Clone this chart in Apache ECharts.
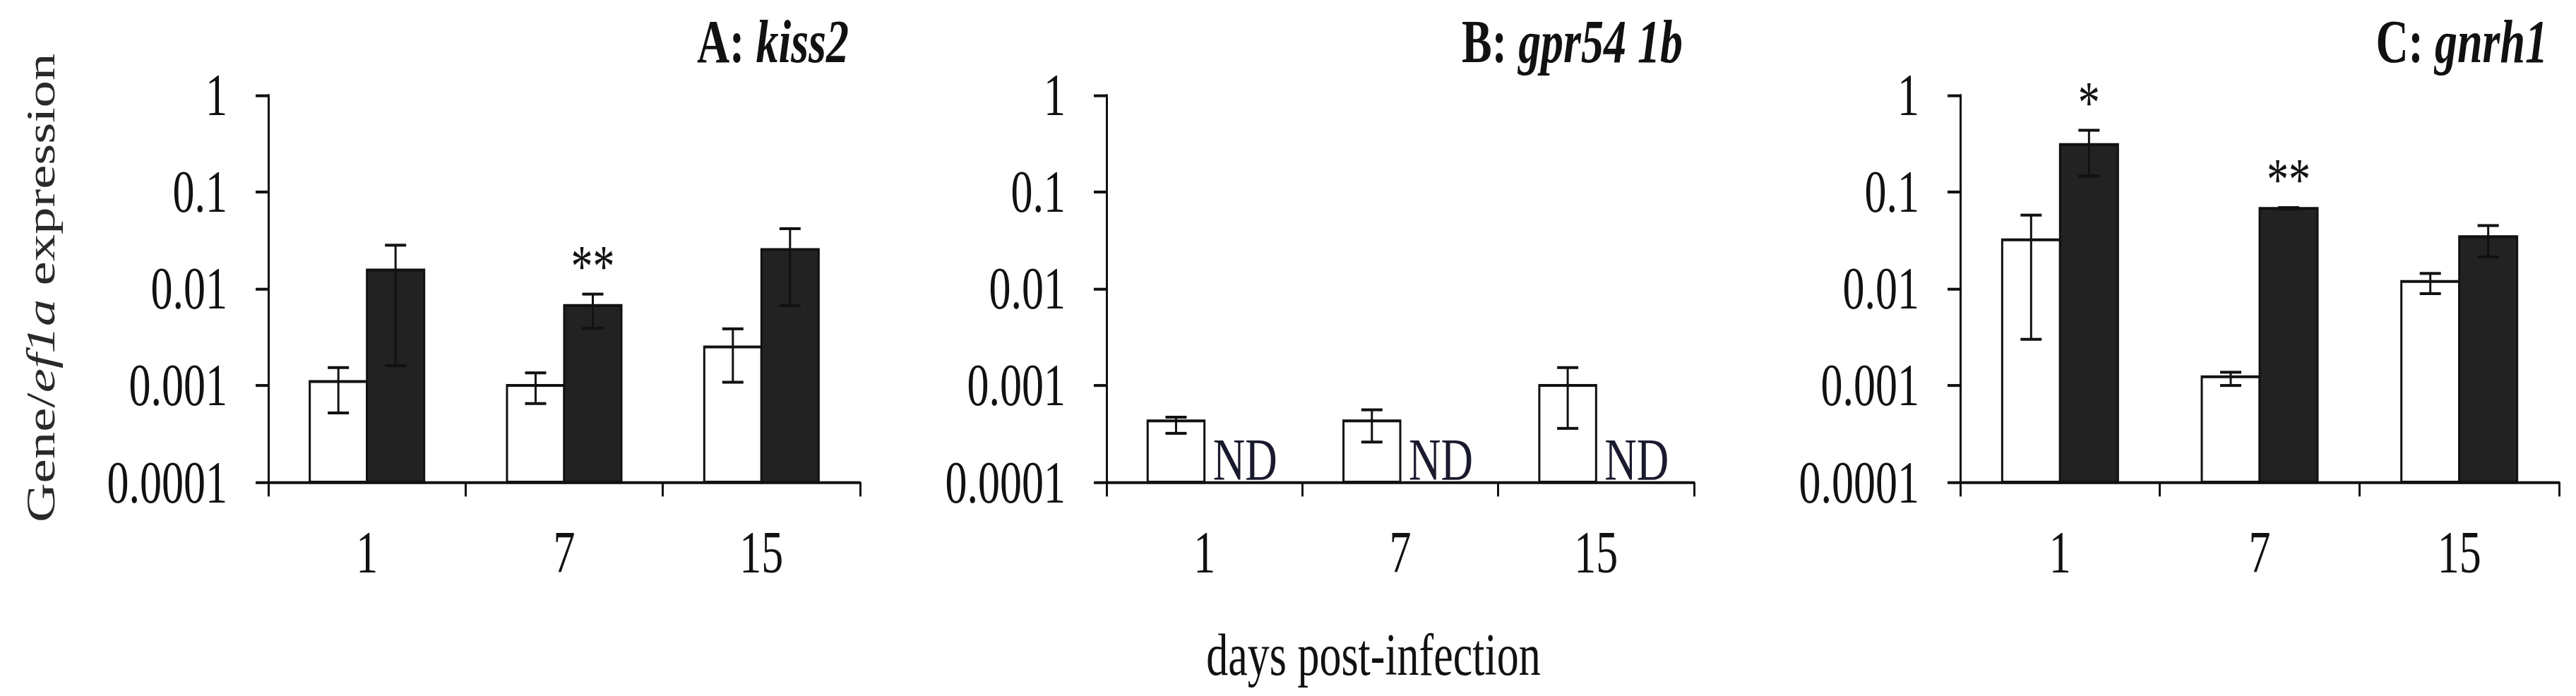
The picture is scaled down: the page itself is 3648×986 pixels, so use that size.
<!DOCTYPE html>
<html>
<head>
<meta charset="utf-8">
<script src="https://cdn.jsdelivr.net/npm/echarts@6/dist/echarts.min.js"></script>
<style>
html,body{margin:0;padding:0;background:#fff;overflow:hidden}
#wrap{width:3648px;height:986px;overflow:hidden;position:relative;background:#fff}
#chart{width:3648px;position:absolute;left:0;top:0;transform-origin:0 0}
</style>
</head>
<body>
<div id="wrap"><div id="chart"></div></div>
<script>
// ---------------- data ----------------
const days = ['1', '7', '15'];
const yTickLabels = ['0.0001', '0.001', '0.01', '0.1', '1'];

// A: kiss2
const ctrlA   = [0.0011, 0.0010, 0.0025];
const ctrlALo = [0.00052, 0.00065, 0.00108];
const ctrlAHi = [0.00153, 0.00135, 0.00385];
const infA    = [0.0156, 0.0067, 0.0254];
const infALo  = [0.0016, 0.0039, 0.0067];
const infAHi  = [0.0282, 0.0088, 0.0418];
const sigA    = ['', '**', ''];

// B: gpr54 1b
const ctrlB   = [0.00043, 0.00043, 0.0010];
const ctrlBLo = [0.00032, 0.00026, 0.00036];
const ctrlBHi = [0.00047, 0.00056, 0.00153];
const ndB     = ['ND', 'ND', 'ND'];

// C: gnrh1
const ctrlC   = [0.032, 0.00123, 0.0119];
const ctrlCLo = [0.0030, 0.00100, 0.0089];
const ctrlCHi = [0.0577, 0.00137, 0.0144];
const infC    = [0.309, 0.0678, 0.0345];
const infCLo  = [0.146, 0.0665, 0.0213];
const infCHi  = [0.435, 0.0690, 0.045];
const sigC    = ['*', '**', ''];

const panelTitles = [['A: ', 'kiss2'], ['B: ', 'gpr54 1b'], ['C: ', 'gnrh1']];
const xName = 'days post-infection';
const yNameParts = ['Gene/', 'ef1a', ' expression'];

// ---------------- styling / layout ----------------
const STRETCH = 1.35;
const H0 = 986 / STRETCH;
const F = '"Liberation Serif", "Times New Roman", Times, serif';
const INK = '#111';
const Y_MIN = 0.0001, Y_MAX = 1;
const BAR_FRAC = 0.29;
const CAP = 15;

const el = document.getElementById('chart');
el.style.height = H0 + 'px';
el.style.transform = 'scaleY(' + STRETCH + ')';

const TOP = 100, PH = 406;
const gridBoxes = [
  {left: 380, width: 838},
  {left: 1567, width: 832},
  {left: 2776, width: 848}
];

function barSeries(idx, vals, lo, hi, side, fill, sig) {
  return {
    type: 'custom',
    xAxisIndex: idx, yAxisIndex: idx,
    data: vals.map((v, j) => [j, v, lo[j], hi[j]]),
    renderItem: function (params, api) {
      const j = api.value(0), v = api.value(1);
      const l = api.value(2), h = api.value(3);
      const c = api.coord([j, v]);
      const b = api.coord([j, Y_MIN]);
      const band = api.size([1, 0])[0];
      const w = band * BAR_FRAC;
      const x0 = side < 0 ? c[0] - w : c[0];
      const xm = x0 + w / 2;
      const pl = api.coord([j, l]);
      const ph = api.coord([j, h]);
      const ls = {stroke: INK, lineWidth: 3};
      const kids = [
        {type: 'rect', shape: {x: x0, y: c[1], width: w, height: b[1] - c[1]},
         style: {fill: fill, stroke: INK, lineWidth: 3}},
        {type: 'line', shape: {x1: xm, y1: ph[1], x2: xm, y2: pl[1]}, style: ls},
        {type: 'line', shape: {x1: xm - CAP, y1: ph[1], x2: xm + CAP, y2: ph[1]}, style: ls},
        {type: 'line', shape: {x1: xm - CAP, y1: pl[1], x2: xm + CAP, y2: pl[1]}, style: ls}
      ];
      if (sig && sig[params.dataIndex]) {
        kids.push({type: 'text', style: {
          text: sig[params.dataIndex], x: xm, y: ph[1] + 2,
          align: 'center', verticalAlign: 'bottom',
          textAlign: 'center', textVerticalAlign: 'bottom',
          font: '62px ' + F, fill: INK}});
      }
      return {type: 'group', children: kids};
    }
  };
}

function ndSeries(idx, labels) {
  return {
    type: 'custom',
    xAxisIndex: idx, yAxisIndex: idx,
    data: labels.map((t, j) => [j]),
    renderItem: function (params, api) {
      const j = api.value(0);
      const b = api.coord([j, Y_MIN]);
      return {type: 'text', style: {
        text: labels[params.dataIndex], x: b[0] + 12, y: b[1] - 24,
        align: 'left', verticalAlign: 'middle',
        textAlign: 'left', textVerticalAlign: 'middle',
        font: '63px ' + F, fill: '#1a1a2e'}};
    }
  };
}

const grids = gridBoxes.map(g => ({left: g.left, width: g.width, top: TOP, height: PH, containLabel: false}));

const xAxes = gridBoxes.map((g, i) => ({
  type: 'category', gridIndex: i, data: days, boundaryGap: true,
  axisLine: {show: true, lineStyle: {color: INK, width: 3}},
  axisTick: {show: true, length: 15, lineStyle: {color: INK, width: 3}},
  axisLabel: {margin: 43, fontSize: 62, fontFamily: F, color: INK},
  splitLine: {show: false}
}));

const yAxes = gridBoxes.map((g, i) => ({
  type: 'log', logBase: 10, gridIndex: i, min: Y_MIN, max: Y_MAX, splitNumber: 4,
  axisLine: {show: true, lineStyle: {color: INK, width: 3}},
  axisTick: {show: true, length: 18, lineStyle: {color: INK, width: 3}},
  axisLabel: {margin: 58, fontSize: 62, fontFamily: F, color: INK,
    formatter: function (v) { return yTickLabels[Math.round(Math.log10(v)) + 4]; }},
  splitLine: {show: false},
  minorTick: {show: false}
}));

const titleGraphics = panelTitles.map((t, i) => ({
  type: 'text',
  x: gridBoxes[i].left + gridBoxes[i].width - 16,
  y: 43,
  style: {
    text: '{b|' + t[0] + '}{bi|' + t[1] + '}',
    align: 'right', verticalAlign: 'middle',
    textAlign: 'right', textVerticalAlign: 'middle',
    fill: INK,
    rich: {
      b: {fontFamily: F, fontSize: 64, fontWeight: 'bold', fill: INK, color: INK},
      bi: {fontFamily: F, fontSize: 64, fontWeight: 'bold', fontStyle: 'italic', fill: INK, color: INK}
    }
  }
}));

const option = {
  backgroundColor: '#fff',
  animation: false,
  grid: grids,
  xAxis: xAxes,
  yAxis: yAxes,
  graphic: titleGraphics.concat([
    {
      type: 'text', x: 1945, y: 687,
      style: {text: xName, font: '62px ' + F, fill: INK,
        align: 'center', verticalAlign: 'middle',
        textAlign: 'center', textVerticalAlign: 'middle'}
    },
    {
      type: 'text', x: 58, y: 302, rotation: Math.PI / 2,
      style: {
        text: '{n|' + yNameParts[0] + '}{i|' + yNameParts[1] + '}{n|' + yNameParts[2] + '}',
        align: 'center', verticalAlign: 'middle',
        textAlign: 'center', textVerticalAlign: 'middle',
        fill: '#2a2a2a',
        rich: {
          n: {fontFamily: F, fontSize: 57, fill: '#2a2a2a', color: '#2a2a2a'},
          i: {fontFamily: F, fontSize: 57, fontStyle: 'italic', fill: '#2a2a2a', color: '#2a2a2a'}
        }
      }
    }
  ]),
  series: [
    barSeries(0, ctrlA, ctrlALo, ctrlAHi, -1, '#ffffff', null),
    barSeries(0, infA, infALo, infAHi, 1, '#222222', sigA),
    barSeries(1, ctrlB, ctrlBLo, ctrlBHi, -1, '#ffffff', null),
    ndSeries(1, ndB),
    barSeries(2, ctrlC, ctrlCLo, ctrlCHi, -1, '#ffffff', null),
    barSeries(2, infC, infCLo, infCHi, 1, '#222222', sigC)
  ]
};

const chart = echarts.init(el, null, {renderer: 'svg'});
chart.setOption(option);
</script>
</body>
</html>
